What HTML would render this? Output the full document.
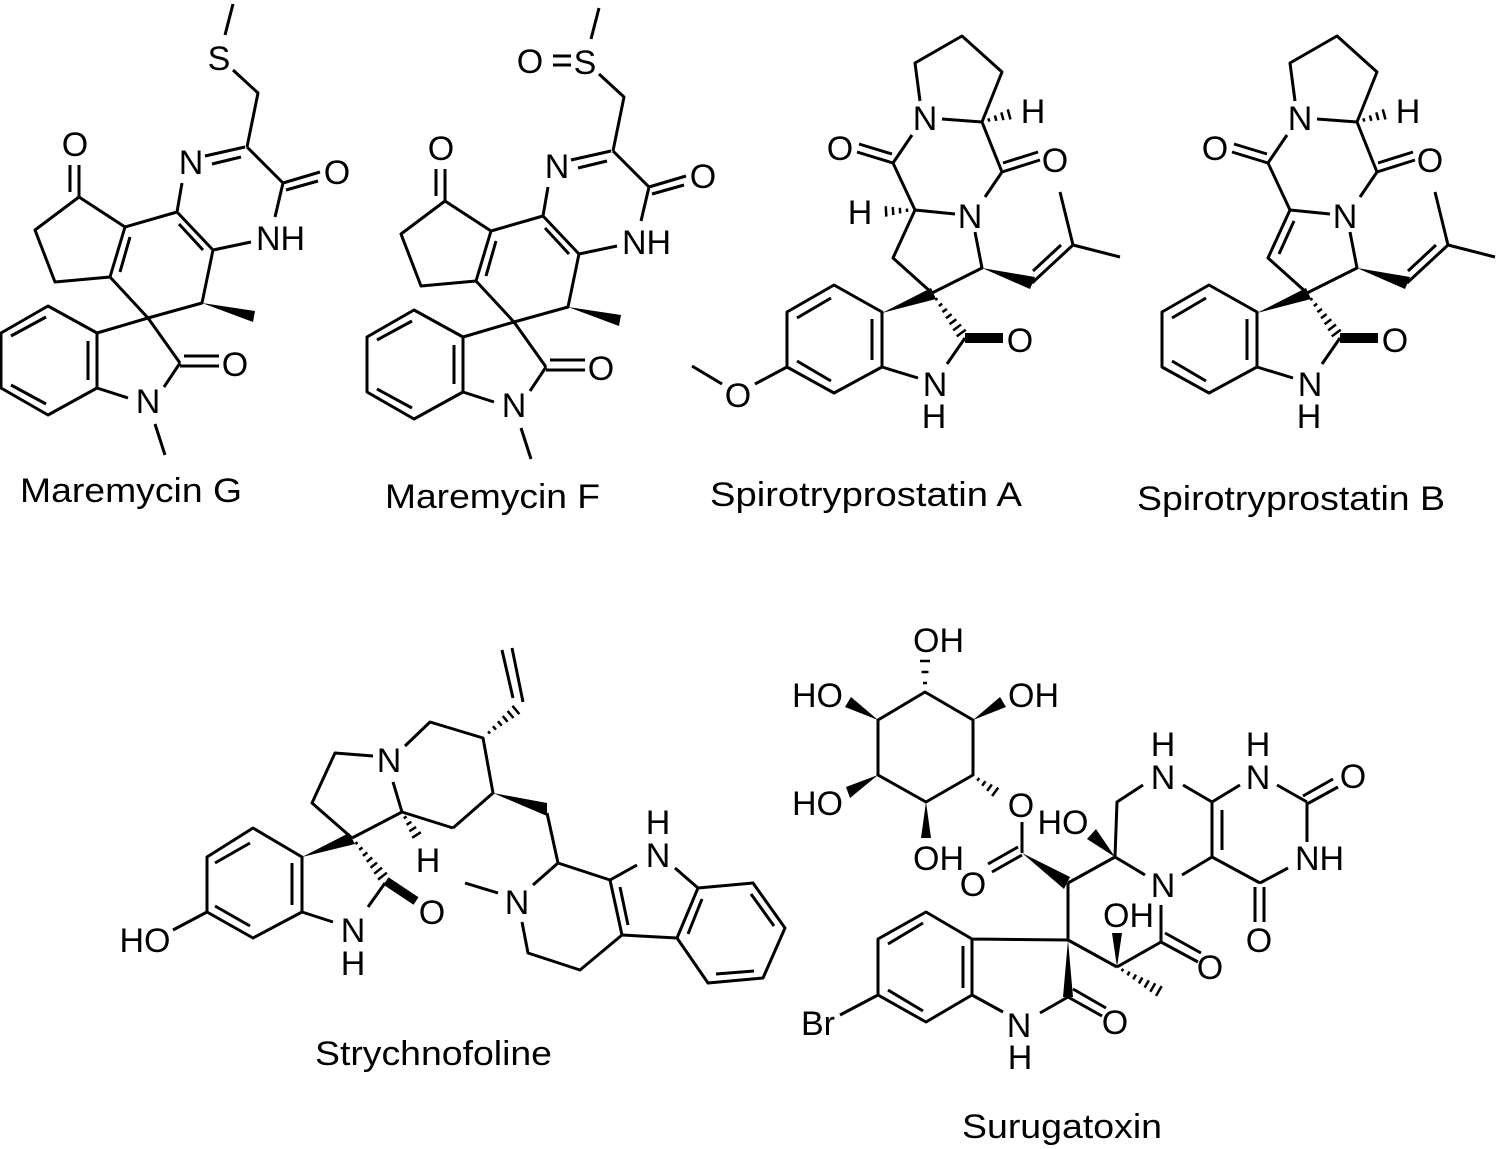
<!DOCTYPE html>
<html><head><meta charset="utf-8">
<style>
html,body{margin:0;padding:0;background:#fff;}
svg{display:block;}
text{font-family:"Liberation Sans",Arial,sans-serif;font-size:34px;fill:#000;stroke:none;}
.b{stroke:#000;stroke-width:3;fill:none;stroke-linejoin:round;}
.h{stroke:#000;stroke-width:2.5;fill:none;}
.w{fill:#000;stroke:none;}
</style></head><body>
<svg width="1502" height="1149" viewBox="0 0 1502 1149" xmlns="http://www.w3.org/2000/svg">

<!-- Maremycin G -->
<g>
<path class="b" d="M225,35L233,4 M233,70L258,93L247,147 M245,147L205,156 M241,157L212,164 M247,147L283,183 M283,183L320,172 M286,190L318,181 M283,183L275,217 M251,242L213,250 M213,250L177,212 M179,224L203,250 M177,212L182,183 M177,212L125,227L79,197 M79,197L79,165 M70,192L70,165 M79,197L35,230L55,282L110,277 M110,277L125,227 M120,272L130,237 M110,277L148,318L202,303L213,250 M148,318L97,333 M148,318L180,363 M180,366L219,366 M184,356L219,356 M180,363L164,387 M128,398L97,388 M155,424L165,455 M48,306L97,333L97,388L48,415L1,388L1,333Z M11,336L46,317 M88,341L88,380 M11,385L46,404"/>
<polygon class="w" points="202,303 255,311 253,322"/>
<text x="219" y="70" text-anchor="middle">S</text>
<text x="191" y="174" text-anchor="middle">N</text>
<text x="337" y="184" text-anchor="middle">O</text>
<text x="256" y="250">NH</text>
<text x="75" y="156" text-anchor="middle">O</text>
<text x="235" y="376" text-anchor="middle">O</text>
<text x="148" y="413" text-anchor="middle">N</text>
</g>
<text x="20" y="502" textLength="222" lengthAdjust="spacingAndGlyphs">Maremycin G</text>

<!-- Maremycin F -->
<g transform="translate(366,4)">
<path class="b" d="M225,35L233,4 M233,70L258,93L247,147 M245,147L205,156 M241,157L212,164 M247,147L283,183 M283,183L320,172 M286,190L318,181 M283,183L275,217 M251,242L213,250 M213,250L177,212 M179,224L203,250 M177,212L182,183 M177,212L125,227L79,197 M79,197L79,165 M70,192L70,165 M79,197L35,230L55,282L110,277 M110,277L125,227 M120,272L130,237 M110,277L148,318L202,303L213,250 M148,318L97,333 M148,318L180,363 M180,366L219,366 M184,356L219,356 M180,363L164,387 M128,398L97,388 M155,424L165,455 M48,306L97,333L97,388L48,415L1,388L1,333Z M11,336L46,317 M88,341L88,380 M11,385L46,404 M187,52L205,52 M187,61L205,61"/>
<polygon class="w" points="202,303 255,311 253,322"/>
<text x="219" y="70" text-anchor="middle">S</text>
<text x="164" y="69" text-anchor="middle">O</text>
<text x="191" y="174" text-anchor="middle">N</text>
<text x="337" y="184" text-anchor="middle">O</text>
<text x="256" y="250">NH</text>
<text x="75" y="156" text-anchor="middle">O</text>
<text x="235" y="376" text-anchor="middle">O</text>
<text x="148" y="413" text-anchor="middle">N</text>
</g>
<text x="385" y="508" textLength="215" lengthAdjust="spacingAndGlyphs">Maremycin F</text>

<!-- Spirotryprostatin A -->
<g>
<path class="b" d="M920,101L915,63L962,36L1002,72L982,122 M942,119L982,122 M982,122L1002,172 M1002,172L1040,160 M1003,163L1038,152 M1002,172L985,197 M955,214L915,210 M915,210L893,163 M893,163L912,135 M893,163L857,152 M892,154L859,144 M915,210L893,258L932,293 M975,232L982,268L932,293 M1032,283L1073,245 M1033,271L1061,245 M1073,245L1060,192 M1073,245L1120,257 M965,338L947,364 M918,378L882,367 M882,312L882,367L834,393L787,367L787,312L834,285Z M797,318L831,298 M872,319L872,360 M797,361L831,381 M787,367L755,384 M722,384L692,366"/>
<path d="M965,338L1003,338" stroke="#000" stroke-width="10"/>
<polygon class="w" points="982,268 1035,277 1030,289"/>
<polygon class="w" points="882,313 931,288 936,299"/>
<g transform="translate(985,121) rotate(-15.3)"><path class="h" d="M4,-1.7V1.7M11,-2.8V2.8M18,-4V4M25,-5.2V5.2"/></g>
<g transform="translate(911,210) rotate(176.7)"><path class="h" d="M4,-1.7V1.7M11,-2.8V2.8M18,-4V4M25,-5.2V5.2"/></g>
<g transform="translate(934,296) rotate(53.7)"><path class="h" d="M4,-1.4V1.4M11,-2.1V2.1M18,-2.8V2.8M25,-3.5V3.5M32,-4.2V4.2M39,-4.9V4.9M46,-5.6V5.6"/></g>
<text x="925" y="130" text-anchor="middle">N</text>
<text x="1033" y="123" text-anchor="middle">H</text>
<text x="1055" y="172" text-anchor="middle">O</text>
<text x="970" y="228" text-anchor="middle">N</text>
<text x="840" y="160" text-anchor="middle">O</text>
<text x="860" y="224" text-anchor="middle">H</text>
<text x="1020" y="352" text-anchor="middle">O</text>
<text x="935" y="396" text-anchor="middle">N</text>
<text x="934" y="428" text-anchor="middle">H</text>
<text x="738" y="407" text-anchor="middle">O</text>
</g>
<text x="710" y="506" textLength="312" lengthAdjust="spacingAndGlyphs">Spirotryprostatin A</text>

<!-- Spirotryprostatin B -->
<g transform="translate(375,0)">
<path class="b" d="M920,101L915,63L962,36L1002,72L982,122 M942,119L982,122 M982,122L1002,172 M1002,172L1040,160 M1003,163L1038,152 M1002,172L985,197 M955,214L915,210 M915,210L893,163 M893,163L912,135 M893,163L857,152 M892,154L859,144 M915,210L893,258L932,293 M919,221L904,254 M975,232L982,268L932,293 M1032,283L1073,245 M1033,271L1061,245 M1073,245L1060,192 M1073,245L1120,257 M965,338L947,364 M918,378L882,367 M882,312L882,367L834,393L787,367L787,312L834,285Z M797,318L831,298 M872,319L872,360 M797,361L831,381"/>
<path d="M965,338L1003,338" stroke="#000" stroke-width="10"/>
<polygon class="w" points="982,268 1035,277 1030,289"/>
<polygon class="w" points="882,313 931,288 936,299"/>
<g transform="translate(985,121) rotate(-15.3)"><path class="h" d="M4,-1.7V1.7M11,-2.8V2.8M18,-4V4M25,-5.2V5.2"/></g>
<g transform="translate(934,296) rotate(53.7)"><path class="h" d="M4,-1.4V1.4M11,-2.1V2.1M18,-2.8V2.8M25,-3.5V3.5M32,-4.2V4.2M39,-4.9V4.9M46,-5.6V5.6"/></g>
<text x="925" y="130" text-anchor="middle">N</text>
<text x="1033" y="123" text-anchor="middle">H</text>
<text x="1055" y="172" text-anchor="middle">O</text>
<text x="970" y="228" text-anchor="middle">N</text>
<text x="840" y="160" text-anchor="middle">O</text>
<text x="1020" y="352" text-anchor="middle">O</text>
<text x="935" y="396" text-anchor="middle">N</text>
<text x="934" y="428" text-anchor="middle">H</text>
</g>
<text x="1137" y="510" textLength="308" lengthAdjust="spacingAndGlyphs">Spirotryprostatin B</text>

<!-- Strychnofoline -->
<g>
<path class="b" d="M173,930L207,912 M207,912L207,857L253,828L302,857L302,912L253,938Z M215,863L250,843 M292,863L292,905 M215,906L250,926 M352,838L312,803L335,753L373,756 M393,782L402,812 M352,838L402,812 M402,812L453,828 M405,746L430,722L483,738L493,793L453,828 M523,702L512,648 M513,698L502,650 M547,813L558,863 M558,863L533,885 M498,893L465,883 M522,922L528,953L580,970L622,935 M622,935L610,880 M628,925L620,887 M610,880L558,863 M610,880L637,865 M675,868L698,888 M698,888L753,883L785,928L763,978L708,983L677,938Z M677,938L622,935 M702,899L688,934 M751,894L774,926 M754,971L716,974 M385,883L368,907 M333,922L302,912"/>
<path d="M386,881L416,901" stroke="#000" stroke-width="9"/>
<polygon class="w" points="302,857 349,833 355,844"/>
<polygon class="w" points="493,793 547,803 547,816"/>
<g transform="translate(403,814) rotate(57.3)"><path class="h" d="M4,-1.7V1.7M11,-2.8V2.8M18,-4V4M25,-5.2V5.2"/></g>
<g transform="translate(486,735) rotate(-39.9)"><path class="h" d="M4,-1.5V1.5M11,-2.3V2.3M18,-3V3M25,-3.8V3.8M32,-4.6V4.6M39,-5.4V5.4"/></g>
<g transform="translate(354,840) rotate(51.8)"><path class="h" d="M4,-1.4V1.4M11,-2.1V2.1M18,-2.8V2.8M25,-3.5V3.5M32,-4.2V4.2M39,-4.9V4.9M46,-5.6V5.6"/></g>
<text x="145" y="952" text-anchor="middle">HO</text>
<text x="389" y="772" text-anchor="middle">N</text>
<text x="428" y="872" text-anchor="middle">H</text>
<text x="432" y="924" text-anchor="middle">O</text>
<text x="353" y="942" text-anchor="middle">N</text>
<text x="353" y="975" text-anchor="middle">H</text>
<text x="517" y="914" text-anchor="middle">N</text>
<text x="658" y="867" text-anchor="middle">N</text>
<text x="658" y="834" text-anchor="middle">H</text>
</g>
<text x="315" y="1065" textLength="237" lengthAdjust="spacingAndGlyphs">Strychnofoline</text>

<!-- Surugatoxin -->
<g>
<path class="b" d="M925,692L973,720L973,775L926,802L878,775L878,720Z M1022,822L1022,853 M1022,855L992,872 M1018,847L988,864 M1115,857L1117,802L1143,785 M1183,785L1212,802 M1212,802L1212,857 M1222,810L1222,850 M1212,802L1240,785 M1277,785L1307,802 M1307,804L1338,787 M1303,796L1333,779 M1307,802L1307,842 M1288,868L1260,883 M1255,887L1255,922 M1264,887L1264,922 M1260,883L1212,857 M1212,857L1182,875 M1145,875L1115,857 M1115,857L1068,883 M1068,883L1068,940 M1068,940L972,939 M1068,940L1117,967 M1117,967L1161,942 M1161,942L1161,905 M1161,942L1198,962 M1165,933L1201,953 M1068,997L1102,1016 M1073,989L1106,1008 M1068,997L1040,1013 M1003,1012L972,995 M972,939L972,995L926,1022L878,995L878,939L926,912Z M888,944L923,923 M963,946L963,988 M888,990L923,1011 M878,995L840,1015"/>
<path class="h" d="M923,683L927,683 M921.5,672L928.5,672 M920,661L930,661"/>
<polygon class="w" points="878,720 851,697 845,707"/>
<polygon class="w" points="973,720 1000,697 1006,707"/>
<polygon class="w" points="878,775 846,787 850,798"/>
<polygon class="w" points="926,802 921,838 931,838"/>
<polygon class="w" points="1022,853 1070,877 1064,889"/>
<polygon class="w" points="1115,857 1087,839 1096,829"/>
<polygon class="w" points="1117,967 1112,933 1122,933"/>
<polygon class="w" points="1068,940 1063,997 1073,997"/>
<g transform="translate(975,777) rotate(36.3)"><path class="h" d="M4,-1.7V1.7M11,-2.8V2.8M18,-4V4M25,-5.2V5.2"/></g>
<g transform="translate(1119,968) rotate(30)"><path class="h" d="M4,-1.4V1.4M11,-2.1V2.1M18,-2.8V2.8M25,-3.5V3.5M32,-4.2V4.2M39,-4.9V4.9M46,-5.6V5.6"/></g>
<text x="913" y="652">OH</text>
<text x="843" y="707" text-anchor="end">HO</text>
<text x="1008" y="707">OH</text>
<text x="843" y="815" text-anchor="end">HO</text>
<text x="913" y="870">OH</text>
<text x="1021" y="817" text-anchor="middle">O</text>
<text x="973" y="896" text-anchor="middle">O</text>
<text x="1063" y="834" text-anchor="middle">HO</text>
<text x="1163" y="789" text-anchor="middle">N</text>
<text x="1163" y="756" text-anchor="middle">H</text>
<text x="1258" y="789" text-anchor="middle">N</text>
<text x="1258" y="756" text-anchor="middle">H</text>
<text x="1353" y="788" text-anchor="middle">O</text>
<text x="1295" y="870">NH</text>
<text x="1259" y="952" text-anchor="middle">O</text>
<text x="1163" y="897" text-anchor="middle">N</text>
<text x="1103" y="927">OH</text>
<text x="1210" y="979" text-anchor="middle">O</text>
<text x="1115" y="1034" text-anchor="middle">O</text>
<text x="1019" y="1037" text-anchor="middle">N</text>
<text x="1020" y="1069" text-anchor="middle">H</text>
<text x="801" y="1035">Br</text>
</g>
<text x="962" y="1138" textLength="200" lengthAdjust="spacingAndGlyphs">Surugatoxin</text>

</svg>
</body></html>
